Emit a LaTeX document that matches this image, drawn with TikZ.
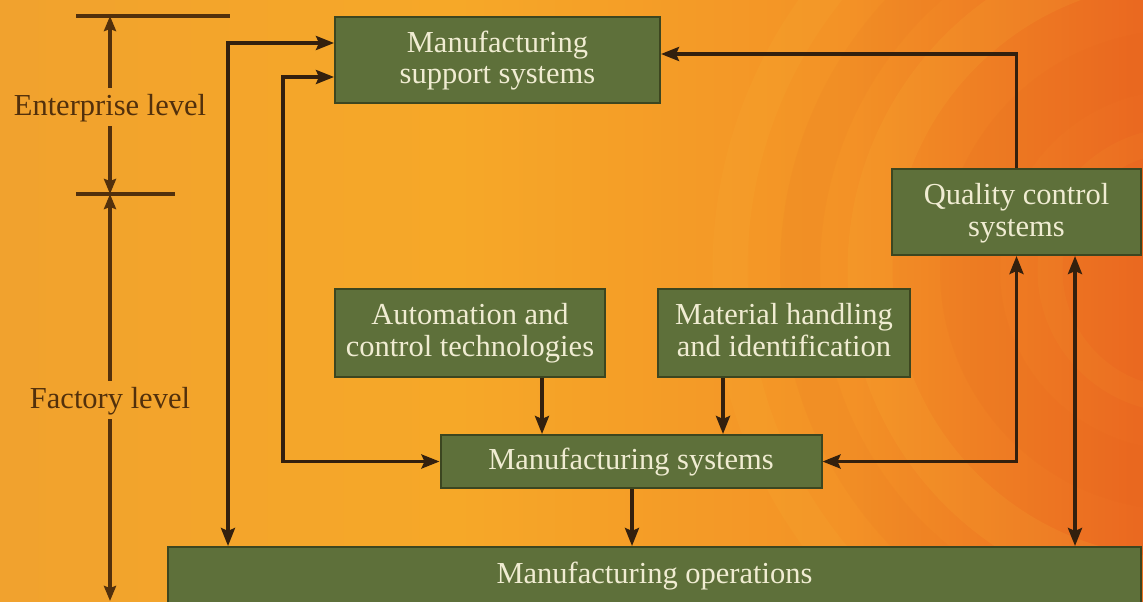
\documentclass[tikz,border=0pt]{standalone}
\usepackage{fontspec}
\setmainfont{Liberation Serif}
\usetikzlibrary{arrows.meta,calc}
\definecolor{boxfill}{HTML}{5E703A}
\definecolor{boxline}{HTML}{3C4620}
\definecolor{boxtext}{HTML}{F0ECD2}
\definecolor{arrcol}{HTML}{33200E}
\definecolor{dimcol}{HTML}{52300C}
\definecolor{bgA}{HTML}{F1A22E}
\definecolor{bgB}{HTML}{F6A828}
\definecolor{bgC}{HTML}{F39226}
\definecolor{bgD}{HTML}{EA6820}
\definecolor{bandY}{HTML}{FAB838}
\definecolor{bandR}{HTML}{E4601C}
\pgfdeclarehorizontalshading{bgsh}{100bp}{color(0bp)=(bgA); color(25bp)=(bgA); color(45bp)=(bgB); color(62bp)=(bgC); color(75bp)=(bgD); color(100bp)=(bgD)}
\newcommand{\txtline}[1]{\rule[-12pt]{0pt}{32pt}\raisebox{-4pt}{#1}}
\tikzset{
  box/.style={draw=boxline, line width=2pt, fill=boxfill, text=boxtext, align=center,
    inner sep=0pt, font=\fontsize{30.5}{32}\selectfont},
  lvl/.style={text=dimcol, inner sep=3pt, font=\fontsize{30.5}{32}\selectfont},
  conn/.style={draw=arrcol, line width=3.4pt, >={Stealth[length=18pt,width=14pt,inset=3pt]}},
  dimln/.style={draw=dimcol, line width=3.2pt, >={Stealth[length=15pt,width=12pt,inset=2pt]}},
}
\begin{document}
\begin{tikzpicture}[x=1pt,y=-1pt]
\useasboundingbox (0,0) rectangle (1143,602);
\shade[shading=bgsh] (0,0) rectangle (1143,602);
\begin{scope}
  \clip (0,0) rectangle (1143,602);
  \draw[bandY, opacity=0.14, line width=45pt] (1180,270) circle (310);
  \draw[bandR, opacity=0.08, line width=40pt] (1180,270) circle (380);
  \draw[bandY, opacity=0.12, line width=35pt] (1180,270) circle (450);
  \draw[bandR, opacity=0.10, line width=60pt] (1180,270) circle (210);
  \draw[bandY, opacity=0.07, line width=25pt] (1180,270) circle (130);
\end{scope}

% boxes
\node[box, minimum width=325pt, minimum height=86pt] (mss) at (497.5,60) {\txtline{Manufacturing}\\\txtline{support systems}};
\node[box, minimum width=249pt, minimum height=86pt] (qcs) at (1016.5,212) {\txtline{Quality control}\\\txtline{systems}};
\node[box, minimum width=270pt, minimum height=88pt] (act) at (470,332.5) {\txtline{Automation and}\\\txtline{control technologies}};
\node[box, minimum width=252pt, minimum height=88pt] (mhi) at (784,332.5) {\txtline{Material handling}\\\txtline{and identification}};
\node[box, minimum width=381pt, minimum height=53pt] (ms) at (631,461.5) {\txtline{Manufacturing systems}};
\node[box, minimum width=973pt, minimum height=56pt] (mo) at (654.5,575) {\txtline{Manufacturing operations}};

% level labels
\node[lvl] (ent) at (110,107) {\txtline{Enterprise level}};
\node[lvl] (fac) at (110,400) {\txtline{Factory level}};
\coordinate (t1) at (110,16);
\coordinate (t2) at (110,194);
\coordinate (t3) at (110,601);
\coordinate (h1a) at (76,16);
\coordinate (h1b) at (230,16);
\coordinate (h2a) at (76,194);
\coordinate (h2b) at (175,194);
\draw[dimln] (h1a) -- (h1b);
\draw[dimln] (h2a) -- (h2b);
\draw[dimln,->] (ent.north) -- (t1);
\draw[dimln,->] (ent.south) -- (t2);
\draw[dimln,->] (fac.north) -- (t2);
\draw[dimln,->] (fac.south) -- (t3);

% helper x positions
\coordinate (xA) at (228,0);
\coordinate (xB) at (283,0);
\coordinate (xC) at (1075,0);
\coordinate (xD) at (542,0);
\coordinate (xE) at (723,0);
\coordinate (xF) at (632,0);

% connectors
\draw[conn,<->] ([yshift=17pt]mss.west) -| (mo.north -| xA);
\draw[conn,<->] ([yshift=-17pt]mss.west) -| (ms.west -| xB) -- (ms.west);
\draw[conn,->] (qcs.north) |- ([yshift=6pt]mss.east);
\draw[conn,<->] (ms.east) -| (qcs.south);
\draw[conn,<->] (qcs.south -| xC) -- (mo.north -| xC);
\draw[conn,->] (act.south -| xD) -- (ms.north -| xD);
\draw[conn,->] (mhi.south -| xE) -- (ms.north -| xE);
\draw[conn,->] (ms.south -| xF) -- (mo.north -| xF);
\end{tikzpicture}
\end{document}
